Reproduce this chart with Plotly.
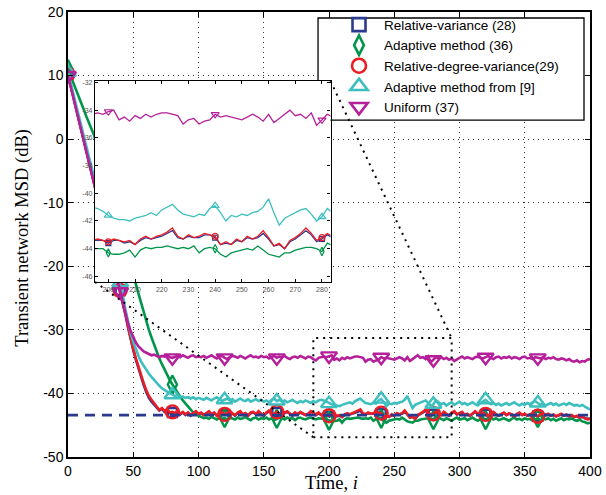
import plotly.graph_objects as go

# time index (every 2nd iteration)
time = list(range(0, 401, 2))

# Transient network MSD (dB)
rel_variance = [
    10.2, 8.5, 6.8, 5.1, 3.4, 1.7, 0.0, -1.7, -3.4, -5.1,
    -6.8, -8.5, -10.2, -11.9, -13.6, -15.3, -17.0, -18.7, -20.4, -22.1,
    -23.8, -25.7, -27.6, -29.6, -31.5, -33.2, -34.7, -36.1, -37.5, -38.7,
    -39.8, -40.7, -41.3, -41.8, -42.3, -42.7, -42.4, -42.9, -42.6, -43.1,
    -43.0, -43.2, -42.8, -43.3, -43.0, -43.4, -43.1, -43.5, -43.2, -42.9,
    -43.3, -43.1, -43.4, -43.2, -42.9, -43.3, -43.1, -43.5, -43.3, -43.0,
    -43.3, -43.2, -42.8, -43.2, -43.5, -43.1, -42.9, -43.3, -43.2, -43.5,
    -43.1, -43.0, -43.3, -42.9, -43.2, -43.5, -43.1, -42.8, -43.1, -43.4,
    -43.0, -43.2, -43.5, -43.1, -42.9, -43.2, -43.5, -43.1, -43.3, -43.0,
    -43.2, -43.4, -43.3, -42.9, -43.1, -43.4, -43.1, -43.4, -43.4, -43.4,
    -43.6, -43.4, -43.4, -43.6, -43.5, -43.7, -43.4, -43.2, -43.3, -43.2,
    -43.1, -42.9, -42.7, -43.2, -43.3, -43.1, -43.2, -43.2, -43.0, -43.0,
    -43.2, -43.7, -43.6, -43.7, -43.4, -43.5, -43.2, -43.3, -43.2, -42.9,
    -43.3, -43.8, -43.7, -44.0, -43.5, -43.3, -43.0, -42.7, -43.0, -43.5,
    -43.3, -43.0, -43.2, -43.4, -43.0, -43.3, -43.5, -43.1, -42.9, -43.3,
    -43.2, -43.0, -43.4, -43.3, -43.5, -43.2, -42.9, -43.2, -43.4, -43.1,
    -43.3, -43.6, -43.2, -43.0, -43.3, -43.5, -43.3, -43.1, -43.4, -43.2,
    -43.3, -43.6, -43.3, -43.1, -43.4, -43.3, -43.5, -43.4, -43.2, -43.4,
    -43.6, -43.4, -43.2, -43.4, -43.3, -43.5, -43.4, -43.6, -43.5, -43.3,
    -43.5, -43.4, -43.6, -43.5, -43.7, -43.6, -43.8, -43.7, -43.9, -44.0,
    -44.0,
]

adaptive_36 = [
    11.0, 10.0, 8.9, 7.8, 6.8, 5.7, 4.7, 3.6, 2.6, 1.6,
    0.6, -0.9, -2.3, -3.8, -5.2, -6.7, -8.1, -9.6, -11.1, -12.5,
    -14.0, -15.4, -16.9, -18.3, -19.8, -21.3, -22.8, -24.3, -25.8, -27.2,
    -28.6, -30.0, -31.2, -32.4, -33.5, -34.5, -35.4, -36.3, -37.1, -37.9,
    -38.6, -39.3, -39.9, -40.5, -41.1, -41.6, -42.1, -42.6, -43.0, -43.3,
    -43.5, -43.7, -43.9, -43.8, -44.0, -43.7, -43.9, -44.1, -43.8, -44.0,
    -43.9, -44.2, -43.8, -43.9, -44.1, -43.8, -44.0, -43.9, -43.7, -44.0,
    -44.2, -43.9, -43.8, -44.1, -43.9, -44.0, -43.8, -44.1, -43.9, -44.2,
    -44.0, -43.8, -43.9, -44.1, -43.8, -44.0, -43.9, -44.2, -43.9, -43.8,
    -44.0, -44.1, -43.9, -43.8, -44.0, -44.1, -43.9, -44.0, -44.0, -44.0,
    -44.3, -44.4, -44.4, -44.3, -44.1, -44.6, -44.1, -43.9, -44.0, -43.9,
    -43.9, -43.8, -43.9, -44.0, -43.9, -44.0, -43.8, -44.3, -44.0, -43.9,
    -44.0, -44.4, -44.6, -44.3, -44.2, -44.1, -44.0, -44.1, -43.8, -44.1,
    -44.4, -44.5, -44.6, -44.3, -44.3, -44.1, -44.0, -43.9, -43.9, -44.0,
    -44.2, -43.6, -43.8, -44.0, -44.2, -43.9, -44.1, -44.3, -44.0, -43.8,
    -44.1, -44.0, -43.9, -44.2, -44.0, -43.8, -44.1, -44.3, -44.0, -43.9,
    -44.2, -44.0, -43.8, -44.1, -43.9, -44.2, -44.0, -43.9, -44.1, -44.3,
    -44.0, -43.8, -44.1, -44.0, -44.2, -43.9, -44.1, -44.0, -44.3, -44.1,
    -43.9, -44.2, -44.0, -44.1, -43.9, -44.2, -44.0, -44.3, -44.1, -43.9,
    -44.2, -44.0, -44.1, -43.9, -44.2, -44.3, -44.1, -44.4, -44.5, -44.7,
    -44.6,
]

rel_degree_variance = [
    10.2, 8.5, 6.8, 5.1, 3.4, 1.7, 0.0, -1.7, -3.4, -5.1,
    -6.8, -8.5, -10.2, -11.9, -13.6, -15.3, -17.0, -18.7, -20.4, -22.1,
    -23.8, -25.6, -27.5, -29.5, -31.4, -33.0, -34.5, -35.9, -37.2, -38.4,
    -39.5, -40.4, -41.0, -41.5, -42.1, -42.6, -42.3, -42.8, -42.5, -43.0,
    -42.9, -43.1, -42.7, -43.2, -42.9, -43.3, -43.0, -43.4, -43.1, -42.8,
    -43.2, -43.0, -43.4, -43.1, -42.8, -43.3, -43.0, -43.5, -43.2, -42.9,
    -43.3, -43.1, -42.7, -43.2, -43.4, -43.0, -42.8, -43.3, -43.1, -43.5,
    -43.0, -42.9, -43.3, -42.8, -43.2, -43.4, -43.0, -42.7, -43.1, -43.3,
    -42.9, -43.2, -43.5, -43.0, -42.8, -43.2, -43.4, -43.0, -43.3, -42.9,
    -43.1, -43.4, -43.2, -42.8, -43.1, -43.3, -43.0, -43.4, -43.3, -43.4,
    -43.5, -43.3, -43.4, -43.5, -43.4, -43.7, -43.3, -43.1, -43.3, -43.1,
    -43.0, -42.8, -42.5, -43.1, -43.3, -43.0, -43.2, -43.1, -42.9, -43.0,
    -43.1, -43.7, -43.5, -43.7, -43.3, -43.5, -43.1, -43.3, -43.1, -42.7,
    -43.2, -43.8, -43.6, -44.0, -43.4, -43.2, -42.9, -42.5, -42.9, -43.4,
    -43.2, -42.9, -43.1, -43.4, -42.9, -43.2, -43.5, -43.0, -42.8, -43.3,
    -43.1, -42.9, -43.4, -43.2, -43.5, -43.1, -42.8, -43.2, -43.4, -43.0,
    -43.3, -43.6, -43.1, -42.9, -43.3, -43.5, -43.2, -43.0, -43.4, -43.1,
    -43.3, -43.6, -43.2, -43.0, -43.4, -43.2, -43.5, -43.3, -43.1, -43.4,
    -43.6, -43.3, -43.1, -43.4, -43.2, -43.5, -43.3, -43.6, -43.4, -43.2,
    -43.5, -43.3, -43.6, -43.4, -43.7, -43.5, -43.8, -43.6, -43.9, -44.1,
    -44.0,
]

adaptive_ref9 = [
    10.5, 8.8, 7.2, 5.5, 3.9, 2.2, 0.6, -1.1, -2.7, -4.4,
    -6.0, -7.7, -9.3, -11.0, -12.6, -14.3, -15.9, -17.6, -19.2, -20.9,
    -22.6, -24.6, -26.8, -28.8, -30.5, -31.9, -33.1, -34.1, -35.0, -35.7,
    -36.3, -36.9, -37.4, -37.9, -38.4, -38.8, -39.2, -39.5, -39.8, -40.0,
    -40.2, -40.4, -40.3, -40.6, -40.5, -40.7, -40.6, -40.8, -40.6, -40.9,
    -40.7, -40.8, -41.0, -40.7, -40.9, -41.1, -40.8, -40.6, -40.9, -41.2,
    -41.0, -40.8, -41.1, -40.9, -41.3, -41.0, -40.8, -41.1, -41.2, -40.9,
    -41.3, -41.1, -40.9, -41.2, -41.0, -41.3, -41.1, -41.4, -41.0, -40.8,
    -41.2, -41.0, -41.3, -41.1, -41.4, -41.2, -41.0, -41.3, -41.5, -41.2,
    -41.4, -41.1, -41.3, -41.5, -41.2, -41.4, -41.1, -41.0, -41.1, -41.3,
    -41.6, -41.8, -41.9, -41.9, -42.0, -41.8, -41.7, -41.6, -41.4, -41.6,
    -41.2, -41.0, -40.8, -41.2, -41.5, -41.6, -41.7, -41.5, -41.6, -41.1,
    -40.9, -41.4, -42.0, -41.6, -41.7, -41.5, -41.6, -41.4, -41.3, -41.0,
    -40.4, -41.4, -42.3, -41.8, -41.6, -41.4, -41.2, -41.1, -41.5, -42.0,
    -41.7, -41.1, -41.4, -41.7, -41.5, -41.9, -41.6, -41.4, -41.8, -41.6,
    -41.3, -41.7, -41.5, -41.8, -41.6, -41.4, -41.7, -41.9, -41.5, -41.3,
    -41.0, -41.4, -41.7, -41.5, -41.8, -41.6, -41.9, -41.7, -41.5, -41.8,
    -41.6, -41.4, -41.7, -41.9, -41.6, -41.8, -41.5, -41.7, -41.4, -41.2,
    -41.5, -41.8, -41.6, -41.9, -41.7, -41.5, -41.8, -41.6, -41.9, -41.7,
    -41.6, -41.8, -41.5, -41.7, -41.9, -41.8, -42.0, -41.8, -42.1, -42.3,
    -42.5,
]

uniform_37 = [
    10.0, 8.3, 6.6, 4.9, 3.2, 1.5, -0.2, -1.9, -3.6, -5.3,
    -7.0, -8.7, -10.4, -12.1, -13.8, -15.5, -17.2, -18.9, -20.6, -22.3,
    -24.0, -25.8, -27.5, -29.0, -30.2, -31.2, -32.0, -32.6, -33.0, -33.4,
    -33.6, -33.8, -34.0, -33.9, -34.1, -34.3, -34.1, -34.2, -34.0, -34.3,
    -34.4, -34.2, -34.1, -34.3, -34.0, -34.2, -34.4, -34.1, -34.0, -34.3,
    -34.2, -34.3, -34.1, -34.4, -34.2, -34.0, -34.3, -34.5, -34.2, -34.1,
    -34.4, -34.6, -34.3, -34.1, -34.2, -34.4, -34.1, -34.3, -34.5, -34.2,
    -34.0, -34.3, -34.2, -34.4, -34.1, -34.3, -34.2, -34.5, -34.3, -34.1,
    -34.4, -34.2, -34.3, -34.1, -34.4, -34.6, -34.3, -34.2, -34.4, -34.1,
    -34.3, -34.5, -34.2, -34.3, -34.6, -34.8, -34.4, -34.3, -34.2, -34.3,
    -34.1, -34.0, -34.7, -34.5, -34.8, -34.4, -34.6, -34.3, -34.5, -34.3,
    -34.2, -34.2, -34.3, -34.4, -35.0, -34.7, -34.6, -35.0, -34.8, -34.7,
    -34.3, -34.5, -34.4, -34.5, -34.6, -34.7, -34.5, -34.3, -34.5, -34.8,
    -34.3, -34.9, -34.6, -34.3, -34.0, -34.4, -34.3, -34.6, -34.2, -35.1,
    -34.7, -34.3, -34.5, -34.3, -34.6, -34.4, -34.7, -34.5, -34.9, -34.6,
    -34.4, -34.2, -34.5, -34.3, -34.4, -34.6, -34.3, -34.2, -34.4, -34.5,
    -34.3, -34.1, -34.4, -34.6, -34.3, -34.2, -34.5, -34.3, -34.4, -34.2,
    -34.5, -34.3, -34.4, -34.6, -34.3, -34.2, -34.5, -34.4, -34.6, -34.3,
    -34.4, -34.5, -34.3, -34.6, -34.4, -34.5, -34.3, -34.6, -34.7, -34.5,
    -34.6, -34.8, -34.6, -34.9, -35.0, -34.8, -35.1, -34.9, -35.0, -34.7,
    -34.6,
]

theory_msd = -43.4  # steady-state (dashed)

series_names = ["Relative-variance (28)", "Adaptive method (36)",
                "Relative-degree-variance(29)", "Adaptive method from [9]",
                "Uniform (37)"]
series_values = [rel_variance, adaptive_36, rel_degree_variance,
                 adaptive_ref9, uniform_37]

for v in series_values:
    assert len(v) == len(time), len(v)

# marker positions: every 40 iterations (0 ... 360)
marker_times = [0, 40, 80, 120, 160, 200, 240, 280, 320, 360]

main_xticks = [0, 50, 100, 150, 200, 250, 300, 350, 400]
main_yticks = [20, 10, 0, -10, -20, -30, -40, -50]
inset_xticks = [200, 210, 220, 230, 240, 250, 260, 270, 280]
inset_yticks = [-32, -34, -36, -38, -40, -42, -44, -46]

# styles
colors = ["#2b3990", "#00954a", "#ec1c24", "#3dbfbf", "#b5209a"]
symbols = ["square-open", "diamond-tall-open", "circle-open",
           "triangle-up-open", "triangle-down-open"]
msizes = [9, 13, 13, 14, 14]       # main-plot markers
lsizes = [13, 14, 14, 15, 15]      # legend markers
isizes = [5, 6, 6, 7, 7]           # inset markers

XR = [0, 400]
YR = [-50, 20]
INSET_XR = [195, 283.2]
INSET_YR = [-46.4, -31.9]
INSET_DX = [0.0517, 0.5029]
INSET_DY = [0.3933, 0.8449]
ZOOM_BOX = dict(x0=188, x1=294, y0=-46.9, y1=-31.3)
LEGEND_BOX = [0.479, 0.9885, 0.757, 0.9865]  # paper x0,x1,y0,y1

fig = go.Figure()

idx_of = {t: k for k, t in enumerate(time)}
for name, vals, c, s, ms in zip(series_names, series_values, colors,
                                symbols, msizes):
    my = [vals[idx_of[t]] for t in marker_times]
    fig.add_trace(go.Scatter(x=time, y=vals, mode="lines",
                             line=dict(color=c, width=2.6),
                             showlegend=False, hoverinfo="skip"))
    fig.add_trace(go.Scatter(x=marker_times, y=my, mode="markers",
                             showlegend=False,
                             marker=dict(symbol=s, size=ms, color=c,
                                         line=dict(color=c, width=2.4))))
for name, vals, c, s, isz in zip(series_names, series_values, colors,
                                 symbols, isizes):
    my = [vals[idx_of[t]] for t in marker_times]
    fig.add_trace(go.Scatter(x=time, y=vals, mode="lines", xaxis="x2",
                             yaxis="y2", line=dict(color=c, width=1.3),
                             showlegend=False, hoverinfo="skip"))
    fig.add_trace(go.Scatter(x=marker_times, y=my, mode="markers",
                             xaxis="x2", yaxis="y2", showlegend=False,
                             marker=dict(symbol=s, size=isz, color=c,
                                         line=dict(color=c, width=1.2))))

fig.add_trace(go.Scatter(x=XR, y=[theory_msd, theory_msd], mode="lines",
                         line=dict(color=colors[0], width=2.8,
                                   dash="10px,7px"),
                         showlegend=False, hoverinfo="skip"))

# legend entries (marker symbols only, as in the original)
for name, c, s, ls in zip(series_names, colors, symbols, lsizes):
    fig.add_trace(go.Scatter(x=[None], y=[None], mode="markers", name=name,
                             marker=dict(symbol=s, size=ls, color=c,
                                         line=dict(color=c, width=2.6))))

tickfont = dict(family="Liberation Sans, Arial, sans-serif", size=14,
                color="black")
small_font = dict(family="Liberation Sans, Arial, sans-serif", size=7,
                  color="#555555")

common = dict(showline=True, linecolor="black", linewidth=1.5,
              mirror="ticks", ticks="inside", tickcolor="black",
              zeroline=False, automargin=False)

fig.update_layout(
    width=606, height=495,
    margin=dict(l=68, r=16, t=12, b=38, autoexpand=False),
    paper_bgcolor="white", plot_bgcolor="white",
    xaxis=dict(domain=[0, 1], range=XR, tickvals=main_xticks,
               ticktext=[str(v) for v in main_xticks], ticklen=5,
               showgrid=True, gridcolor="#333333", gridwidth=1,
               griddash="1px,4px", tickfont=tickfont, **common),
    yaxis=dict(domain=[0, 1], range=YR, tickvals=main_yticks,
               ticktext=[str(v) for v in main_yticks], ticklen=5,
               showgrid=True, gridcolor="#333333", gridwidth=1,
               griddash="1px,4px", tickfont=tickfont, **common),
    xaxis2=dict(domain=INSET_DX, anchor="y2", range=INSET_XR,
                tickvals=inset_xticks,
                ticktext=[str(v) for v in inset_xticks], ticklen=3,
                showgrid=False, tickfont=small_font,
                **{**common, "linewidth": 1.3}),
    yaxis2=dict(domain=INSET_DY, anchor="x2", range=INSET_YR,
                tickvals=inset_yticks,
                ticktext=[str(v) for v in inset_yticks], ticklen=3,
                showgrid=False, tickfont=small_font,
                **{**common, "linewidth": 1.3}),
    legend=dict(x=0.5096, y=1.006, xanchor="left", yanchor="top",
                bgcolor="rgba(0,0,0,0)", borderwidth=0, itemwidth=40,
                tracegroupgap=0,
                font=dict(family="Liberation Sans, Arial, sans-serif",
                          size=13.5, color="black")),
    font=dict(family="Liberation Sans, Arial, sans-serif"),
)


def to_data_x(p):
    return XR[0] + p * (XR[1] - XR[0])


def to_data_y(p):
    return YR[0] + p * (YR[1] - YR[0])


dot = dict(color="black", width=2, dash="2px,5px")
fig.add_shape(type="rect", xref="x", yref="y", line=dot,
              fillcolor="rgba(0,0,0,0)", layer="above", **ZOOM_BOX)
fig.add_shape(type="line", xref="x", yref="y", line=dot, layer="above",
              x0=to_data_x(INSET_DX[0]), y0=to_data_y(INSET_DY[0]),
              x1=ZOOM_BOX["x0"], y1=ZOOM_BOX["y0"])
fig.add_shape(type="line", xref="x", yref="y", line=dot, layer="above",
              x0=to_data_x(INSET_DX[1]), y0=to_data_y(INSET_DY[1]),
              x1=ZOOM_BOX["x1"], y1=ZOOM_BOX["y1"])
fig.add_shape(type="rect", xref="x", yref="y", layer="between",
              x0=to_data_x(LEGEND_BOX[0]), x1=to_data_x(LEGEND_BOX[1]),
              y0=to_data_y(LEGEND_BOX[2]), y1=to_data_y(LEGEND_BOX[3]),
              fillcolor="white", line=dict(color="black", width=1.3))

serif = "Liberation Serif, Times New Roman, serif"
fig.add_annotation(text="Transient network MSD (dB)", xref="paper",
                   yref="paper", x=-0.0887, y=0.492, textangle=-90,
                   showarrow=False, xanchor="center", yanchor="middle",
                   font=dict(family=serif, size=18.5, color="black"))
fig.add_annotation(text="Time, <i>i</i>", xref="paper", yref="paper",
                   x=0.505, y=-0.0854, showarrow=False, xanchor="center",
                   yanchor="bottom",
                   font=dict(family=serif, size=18.5, color="black"))

fig.write_html("out.html", config={"displayModeBar": False},
               post_script="document.body.style.margin='0px';")
